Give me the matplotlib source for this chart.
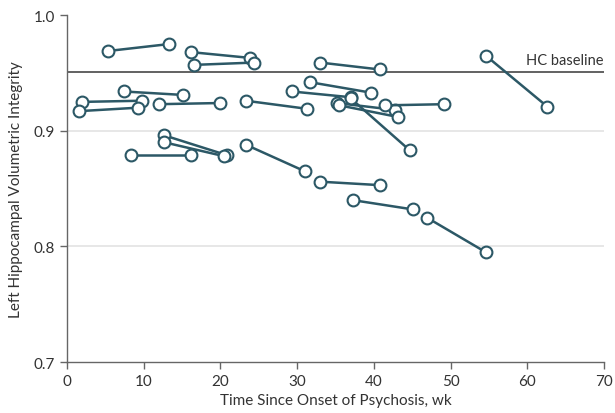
import matplotlib
matplotlib.use("Agg")
import matplotlib.pyplot as plt

# Each patient: (week at scan 1, week at scan 2), (integrity at scan 1, integrity at scan 2)
weeks_start = [5.35, 16.2, 16.6, 33.0, 54.6, 7.4, 2.0, 1.6, 11.95, 23.3, 31.7, 29.3,
               35.2, 35.5, 41.5, 37.0, 12.7, 12.7, 8.3, 23.3, 33.0, 37.3, 46.9]
weeks_end = [13.3, 23.9, 24.4, 40.8, 62.6, 15.1, 9.8, 9.3, 19.9, 31.3, 39.6, 37.0,
             42.8, 43.1, 49.2, 44.7, 20.8, 20.5, 16.1, 31.0, 40.8, 45.1, 54.6]
integ_start = [0.969, 0.968, 0.957, 0.959, 0.965, 0.934, 0.925, 0.917, 0.923, 0.926, 0.942, 0.934,
               0.924, 0.922, 0.922, 0.928, 0.896, 0.890, 0.879, 0.888, 0.856, 0.840, 0.825]
integ_end = [0.975, 0.963, 0.959, 0.953, 0.921, 0.931, 0.926, 0.920, 0.924, 0.919, 0.933, 0.929,
             0.918, 0.912, 0.923, 0.883, 0.879, 0.878, 0.879, 0.865, 0.853, 0.832, 0.795]
hc_baseline = 0.951

x_ticks = [0, 10, 20, 30, 40, 50, 60, 70]
y_ticks = [0.7, 0.8, 0.9, 1.0]

color = "#2c5866"
txt = "#333333"
plt.rcParams['font.family'] = ['Lato', 'DejaVu Sans']

fig = plt.figure(figsize=(6.15, 4.14), dpi=100)
ax = fig.add_axes([0.109, 0.123, 0.873, 0.838])

for yv in [0.8, 0.9]:
    ax.axhline(yv, color="#e3e3e3", lw=1.2, zorder=0)

ax.axhline(hc_baseline, color="#555555", lw=1.3, zorder=1)
ax.text(70, hc_baseline + 0.004, "HC baseline", ha="right", va="bottom",
        fontsize=10.5, color=txt)

for x0, x1, y0, y1 in zip(weeks_start, weeks_end, integ_start, integ_end):
    ax.plot([x0, x1], [y0, y1], color=color, lw=1.8, marker="o", markersize=8.5,
            markerfacecolor="white", markeredgecolor=color, markeredgewidth=1.5,
            zorder=3, solid_capstyle="butt")

ax.set_xlim(0, 70)
ax.set_ylim(0.7, 1.0)
ax.set_xticks(x_ticks)
ax.set_yticks(y_ticks)
ax.set_yticklabels([f"{v:.1f}" for v in y_ticks])
ax.spines['top'].set_visible(False)
ax.spines['right'].set_visible(False)
for s in ['left', 'bottom']:
    ax.spines[s].set_color("#666666")
    ax.spines[s].set_linewidth(1.0)
ax.tick_params(axis='both', colors="#666666", labelcolor=txt, labelsize=11, length=5, width=1)
ax.set_xlabel("Time Since Onset of Psychosis, wk", fontsize=11, color=txt, labelpad=4)
ax.set_ylabel("Left Hippocampal Volumetric Integrity", fontsize=11, color=txt, labelpad=8)

fig.savefig("out.png", dpi=100)
